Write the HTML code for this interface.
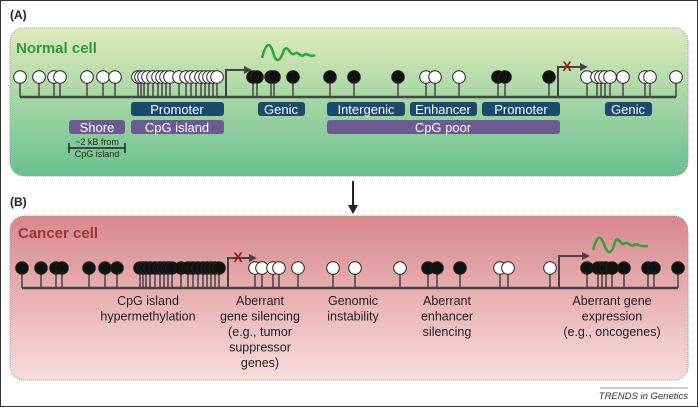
<!DOCTYPE html>
<html><head><meta charset="utf-8"><style>
body{margin:0;background:#fff}
svg{display:block;font-family:"Liberation Sans",sans-serif}
</style></head><body>
<svg id="s" width="698" height="407" viewBox="0 0 698 407" xmlns="http://www.w3.org/2000/svg">
<defs>
<linearGradient id="ga" x1="0" y1="0" x2="0" y2="1"><stop offset="0" stop-color="#dfeab9"/><stop offset="1" stop-color="#69c08f"/></linearGradient>
<linearGradient id="gb" x1="0" y1="0" x2="0" y2="1"><stop offset="0" stop-color="#d8878c"/><stop offset="1" stop-color="#f9dcdc"/></linearGradient>
</defs>
<rect x="0.5" y="0.5" width="697" height="406" fill="#fff" stroke="#333" stroke-width="1"/>
<text x="10" y="19" font-size="12" font-weight="bold" fill="#222">(A)</text>
<rect x="10" y="28" width="678" height="148" rx="14" fill="url(#ga)" stroke="#999" stroke-dasharray="1,1"/>
<text x="16" y="53" font-size="15" font-weight="bold" fill="#2e9a3c">Normal cell</text>
<line x1="353" y1="181" x2="353" y2="207" stroke="#222" stroke-width="2"/>
<polygon points="348,205 358,205 353,214" fill="#222"/>
<text x="10" y="206" font-size="12" font-weight="bold" fill="#222">(B)</text>
<rect x="10" y="216" width="678" height="164" rx="14" fill="url(#gb)" stroke="#999" stroke-dasharray="1,1"/>
<text x="18" y="238" font-size="15" font-weight="bold" fill="#9e3538">Cancer cell</text>
<g id="g"></g>
<g font-size="13" fill="#fff" text-anchor="middle">
<rect x="131" y="102" width="93" height="14" rx="3" fill="#1b4a6e"/><text x="177" y="114">Promoter</text>
<rect x="131" y="120" width="93" height="14" rx="3" fill="#6c5b93"/><text x="177" y="132">CpG island</text>
<rect x="69" y="120" width="56" height="14" rx="3" fill="#6c5b93"/><text x="97" y="132">Shore</text>
<rect x="258" y="102" width="47" height="14" rx="3" fill="#1b4a6e"/><text x="281" y="114">Genic</text>
<rect x="327" y="102" width="78" height="14" rx="3" fill="#1b4a6e"/><text x="366" y="114">Intergenic</text>
<rect x="410" y="102" width="67" height="14" rx="3" fill="#1b4a6e"/><text x="443" y="114">Enhancer</text>
<rect x="482" y="102" width="78" height="14" rx="3" fill="#1b4a6e"/><text x="521" y="114">Promoter</text>
<rect x="327" y="120" width="233" height="14" rx="3" fill="#6c5b93"/><text x="443" y="132">CpG poor</text>
<rect x="605" y="102" width="47" height="14" rx="3" fill="#1b4a6e"/><text x="628" y="114">Genic</text>
</g>
<g stroke="#222" stroke-width="1.5"><line x1="69" y1="148" x2="125" y2="148"/><line x1="69" y1="143" x2="69" y2="153"/><line x1="125" y1="143" x2="125" y2="153"/></g>
<g font-size="9" fill="#222" text-anchor="middle"><text x="97" y="145">~2 kB from</text><text x="97" y="157">CpG island</text></g>
<g font-size="12.5" fill="#222" text-anchor="middle">
<text x="148" y="305">CpG island</text><text x="148" y="320.5">hypermethylation</text>
<text x="260" y="305">Aberrant</text><text x="260" y="320.5">gene silencing</text><text x="260" y="336">(e.g., tumor</text><text x="260" y="351.5">suppressor</text><text x="260" y="367">genes)</text>
<text x="353" y="305">Genomic</text><text x="353" y="320.5">instability</text>
<text x="447" y="305">Aberrant</text><text x="447" y="320.5">enhancer</text><text x="447" y="336">silencing</text>
<text x="612" y="305">Aberrant gene</text><text x="612" y="320.5">expression</text><text x="612" y="336">(e.g., oncogenes)</text>
</g>
<line x1="600" y1="388" x2="688" y2="388" stroke="#999"/>
<text x="688" y="399" font-size="9.5" font-style="italic" fill="#333" text-anchor="end">TRENDS in Genetics</text>
</svg>
<script>
var g=document.getElementById('g'),h='';
function row(y,list,x0,x1){h+='<line x1="'+x0+'" y1="'+y+'" x2="'+x1+'" y2="'+y+'" stroke="#444" stroke-width="2.5"/>';
list.forEach(function(p){var x=p[0],w=p[1];h+='<line x1="'+x+'" y1="'+y+'" x2="'+x+'" y2="'+(y-19)+'" stroke="#444" stroke-width="1.5"/>';
h+='<circle cx="'+x+'" cy="'+(y-20)+'" r="6.3" fill="'+(w?'#fff':'#111')+'" stroke="#222" stroke-width="1"/>';});}
function arr(x,y,top,x2,cross){h+='<polyline points="'+x+','+y+' '+x+','+top+' '+(x2-6)+','+top+'" fill="none" stroke="#444" stroke-width="2"/><polygon points="'+(x2-8)+','+(top-4)+' '+x2+','+top+' '+(x2-8)+','+(top+4)+'" fill="#444"/>';
if(cross)h+='<text x="'+cross+'" y="'+(top+4)+'" font-size="14" font-weight="bold" fill="#9b1c1c" text-anchor="middle">X</text>';}
var clus=[138,141,144,148,153,158,162,166,170,179,186,191,196,201,205,209,213,217];
var L=[20,39,54,60,87,103,115];
var a=[];L.forEach(function(x){a.push([x,1])});clus.forEach(function(x){a.push([x,1])});
[253,257,271,274,293,330,354,398].forEach(function(x){a.push([x,0])});
[426,435,459].forEach(function(x){a.push([x,1])});
[498,505,549].forEach(function(x){a.push([x,0])});
[587,597,601,605,610,623,645,650,676].forEach(function(x){a.push([x,1])});
row(97,a,20,676);arr(226,97,70,252);arr(558,97,67,588,567);
h+='<path d="M262,58 C266,42 270,42 273,52 C276,64 280,62 284,50 C288,44 290,56 294,54 C298,50 300,58 304,55 C307,52 310,58 315,55" fill="none" stroke="#2aa53a" stroke-width="2.5"/>';
var b=[];L.forEach(function(x){b.push([x+2,0])});clus.forEach(function(x){b.push([x+2,0])});
[255,262,273,279,298,333,355,400].forEach(function(x){b.push([x,1])});
[428,437,460].forEach(function(x){b.push([x,0])});
[500,508,550].forEach(function(x){b.push([x,1])});
[587,598,602,606,612,624,648,654,678].forEach(function(x){b.push([x,0])});
row(288,b,22,678);arr(228,288,258,257,238);arr(559,288,256,590);
h+='<path d="M593,250 C597,236 600,234 604,244 C608,256 612,254 615,242 C618,234 621,246 624,244 C628,240 631,248 634,245 C637,242 640,248 648,246" fill="none" stroke="#2aa53a" stroke-width="2.5"/>';
g.innerHTML=h;
</script>
</body></html>
